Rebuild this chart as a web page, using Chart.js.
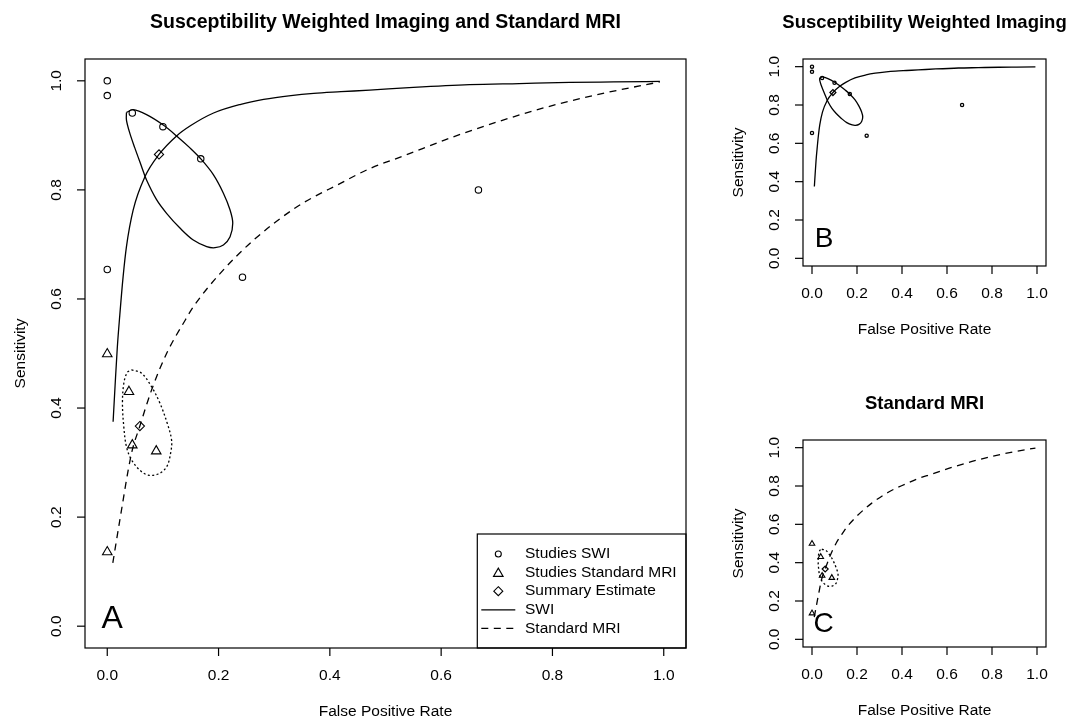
<!DOCTYPE html>
<html>
<head>
<meta charset="utf-8">
<script src="https://cdn.jsdelivr.net/npm/chart.js@4.4.0/dist/chart.umd.min.js"></script>
<style>
  body { margin: 0; background: #fff; }
  #wrap { position: relative; width: 1083px; height: 721px; overflow: hidden; }
  canvas { position: absolute; }
</style>
</head>
<body>
<div id="wrap">
  <canvas id="chartA" width="700" height="721" style="left:0;top:0"></canvas>
  <canvas id="chartB" width="383" height="360" style="left:700px;top:0"></canvas>
  <canvas id="chartC" width="383" height="361" style="left:700px;top:360px"></canvas>
</div>
<script>
// axis ticks
var fprTicks = [0, 0.2, 0.4, 0.6, 0.8, 1.0];
var tickLabels = ['0.0', '0.2', '0.4', '0.6', '0.8', '1.0'];

// individual studies
var swiFpr  = [0, 0, 0.045, 0.100, 0.168, 0, 0.243, 0.667];
var swiSens = [1.000, 0.973, 0.941, 0.916, 0.857, 0.654, 0.640, 0.800];
var mriFpr  = [0, 0.039, 0.045, 0.088, 0];
var mriSens = [0.499, 0.430, 0.332, 0.321, 0.136];

// summary estimates (SWI, Standard MRI)
var summFpr  = [0.093, 0.0586];
var summSens = [0.865, 0.367];

// SROC curves
var swiCurveFpr  = [0.0105, 0.014, 0.018, 0.0225, 0.0285, 0.0345, 0.0465, 0.0676, 0.093, 0.1246, 0.15, 0.191, 0.24, 0.281, 0.33, 0.371, 0.42, 0.4716, 0.55, 0.651, 0.74, 0.831, 0.91, 0.993];
var swiCurveSens = [0.375, 0.44, 0.51, 0.57, 0.641, 0.696, 0.763, 0.824, 0.865, 0.899, 0.918, 0.941, 0.957, 0.966, 0.973, 0.977, 0.980, 0.983, 0.988, 0.993, 0.995, 0.997, 0.998, 0.999];
var mriCurveFpr  = [0.01, 0.0225, 0.0436, 0.0586, 0.0796, 0.1066, 0.14, 0.155, 0.203, 0.263, 0.341, 0.419, 0.4716, 0.5316, 0.6214, 0.7112, 0.801, 0.891, 0.993];
var mriCurveSens = [0.116, 0.194, 0.317, 0.367, 0.433, 0.5, 0.561, 0.586, 0.647, 0.708, 0.769, 0.812, 0.839, 0.862, 0.897, 0.928, 0.955, 0.977, 0.998];

// confidence regions
var swiEllFpr  = [0.0345, 0.0465, 0.0706, 0.1006, 0.1246, 0.1486, 0.168, 0.1906, 0.2087, 0.2207, 0.2255, 0.2207, 0.2087, 0.1937, 0.1787, 0.1546, 0.1306, 0.1066, 0.0886, 0.0706, 0.0616, 0.0495, 0.0405, 0.0345, 0.0345];
var swiEllSens = [0.942, 0.947, 0.938, 0.919, 0.899, 0.877, 0.857, 0.828, 0.794, 0.763, 0.739, 0.714, 0.699, 0.694, 0.696, 0.708, 0.730, 0.757, 0.782, 0.818, 0.843, 0.877, 0.904, 0.928, 0.942];
var mriEllFpr  = [0.0436, 0.0616, 0.0796, 0.0946, 0.1078, 0.1156, 0.1138, 0.1066, 0.0916, 0.0736, 0.0586, 0.0436, 0.0345, 0.0297, 0.0273, 0.0297, 0.0357, 0.0436];
var mriEllSens = [0.470, 0.464, 0.439, 0.409, 0.372, 0.341, 0.317, 0.292, 0.279, 0.277, 0.286, 0.305, 0.329, 0.366, 0.409, 0.445, 0.465, 0.470];

var legendLabels = ['Studies SWI', 'Studies Standard MRI', 'Summary Estimate', 'SWI', 'Standard MRI'];

var FONT = '"Liberation Sans", Arial, sans-serif';

function pts(xs, ys) {
    return xs.map(function (x, i) { return { x: x, y: ys[i] }; });
}

function studies(xs, ys, style, r, bw) {
    return { data: pts(xs, ys), pointStyle: style, pointRadius: r, borderColor: '#000',
             backgroundColor: 'rgba(0,0,0,0)', pointBorderWidth: bw, showLine: false };
}

function curve(xs, ys, dash, closed) {
    var d = { data: pts(xs, ys), showLine: true, pointRadius: 0, borderColor: '#000',
              borderWidth: 1.3, borderDash: dash, fill: false };
    if (closed) d.tension = 0.35; else d.cubicInterpolationMode = 'monotone';
    return d;
}

// draws the R-like box, axes, titles, letter and legend
var rStyle = {
    id: 'rStyle',
    afterDraw: function (chart, args, o) {
        var ctx = chart.ctx, a = chart.chartArea, xs = chart.scales.x, ys = chart.scales.y;
        ctx.save();
        ctx.strokeStyle = '#000';
        ctx.fillStyle = '#000';
        ctx.lineWidth = 1.2;
        ctx.strokeRect(a.left, a.top, a.right - a.left, a.bottom - a.top);
        ctx.font = '15.5px ' + FONT;
        ctx.textAlign = 'center';
        ctx.textBaseline = 'middle';
        fprTicks.forEach(function (v, i) {
            var px = xs.getPixelForValue(v);
            ctx.beginPath(); ctx.moveTo(px, a.bottom); ctx.lineTo(px, a.bottom + 8); ctx.stroke();
            ctx.fillText(tickLabels[i], px, a.bottom + 28);
            var py = ys.getPixelForValue(v);
            ctx.beginPath(); ctx.moveTo(a.left, py); ctx.lineTo(a.left - 8, py); ctx.stroke();
            ctx.save(); ctx.translate(a.left - 28, py); ctx.rotate(-Math.PI / 2);
            ctx.fillText(tickLabels[i], 0, 0); ctx.restore();
        });
        ctx.fillText('False Positive Rate', (a.left + a.right) / 2, a.bottom + 64);
        ctx.save(); ctx.translate(a.left - 64, (a.top + a.bottom) / 2); ctx.rotate(-Math.PI / 2);
        ctx.fillText('Sensitivity', 0, 0); ctx.restore();

        ctx.font = 'bold ' + o.titleSize + 'px ' + FONT;
        ctx.fillText(o.title, (a.left + a.right) / 2, a.top - 36.5);

        ctx.font = o.letterSize + 'px ' + FONT;
        ctx.fillText(o.letter, xs.getPixelForValue(o.letterAt[0]), ys.getPixelForValue(o.letterAt[1]));

        if (o.legend) {
            var bl = a.right - 208.7, bt = a.bottom - 114;
            ctx.lineWidth = 1.2;
            ctx.strokeRect(bl, bt, a.right - bl, a.bottom - bt);
            var rows = [20, 38.6, 57.2, 75.8, 94.4];
            var sx = bl + 21;
            ctx.font = '15.5px ' + FONT;
            ctx.textAlign = 'left';
            legendLabels.forEach(function (lab, i) {
                ctx.fillText(lab, bl + 47.7, bt + rows[i]);
            });
            ctx.lineWidth = 1.1;
            var y0 = bt + rows[0];
            ctx.beginPath(); ctx.arc(sx, y0, 3, 0, Math.PI * 2); ctx.stroke();
            var y1 = bt + rows[1] + 1;
            ctx.beginPath(); ctx.moveTo(sx, y1 - 5.5); ctx.lineTo(sx + 4.8, y1 + 2.75);
            ctx.lineTo(sx - 4.8, y1 + 2.75); ctx.closePath(); ctx.stroke();
            var y2 = bt + rows[2];
            ctx.beginPath(); ctx.moveTo(sx, y2 - 4.5); ctx.lineTo(sx + 4.5, y2);
            ctx.lineTo(sx, y2 + 4.5); ctx.lineTo(sx - 4.5, y2); ctx.closePath(); ctx.stroke();
            ctx.lineWidth = 1.3;
            ctx.beginPath(); ctx.moveTo(bl + 4, bt + rows[3]); ctx.lineTo(bl + 38, bt + rows[3]); ctx.stroke();
            ctx.setLineDash([7, 5.5]);
            ctx.beginPath(); ctx.moveTo(bl + 4, bt + rows[4]); ctx.lineTo(bl + 38, bt + rows[4]); ctx.stroke();
            ctx.setLineDash([]);
        }
        ctx.restore();
    }
};

function makeChart(id, datasets, pad, opts) {
    return new Chart(document.getElementById(id), {
        type: 'scatter',
        data: { datasets: datasets },
        options: {
            responsive: false,
            animation: false,
            devicePixelRatio: 1,
            events: [],
            layout: { padding: pad },
            scales: {
                x: { type: 'linear', min: -0.04, max: 1.04, display: false },
                y: { type: 'linear', min: -0.04, max: 1.04, display: false }
            },
            plugins: { legend: { display: false }, tooltip: { enabled: false }, rStyle: opts }
        },
        plugins: [rStyle]
    });
}

var DASH = [7, 5.5], DOTS = [2, 2.4];

makeChart('chartA', [
    curve(swiCurveFpr, swiCurveSens, []),
    curve(mriCurveFpr, mriCurveSens, DASH),
    curve(swiEllFpr, swiEllSens, [], true),
    curve(mriEllFpr, mriEllSens, DOTS, true),
    studies(swiFpr, swiSens, 'circle', 3.2, 1.1),
    studies(mriFpr, mriSens, 'triangle', 5.5, 1.1),
    studies(summFpr, summSens, 'rectRot', 4.6, 1.1)
], { left: 85, top: 59, right: 14, bottom: 73 },
   { title: 'Susceptibility Weighted Imaging and Standard MRI', titleSize: 19.5, letter: 'A', letterSize: 32,
     letterAt: [0.009, 0.013], legend: true });

makeChart('chartB', [
    curve(swiCurveFpr, swiCurveSens, []),
    curve(swiEllFpr, swiEllSens, [], true),
    studies(swiFpr, swiSens, 'circle', 1.6, 1.3),
    studies(summFpr.slice(0, 1), summSens.slice(0, 1), 'rectRot', 3, 1.2)
], { left: 103, top: 59, right: 37, bottom: 94 },
   { title: 'Susceptibility Weighted Imaging', titleSize: 18.5, letter: 'B', letterSize: 28,
     letterAt: [0.054, 0.098], legend: false });

makeChart('chartC', [
    curve(mriCurveFpr, mriCurveSens, DASH),
    curve(mriEllFpr, mriEllSens, DOTS, true),
    studies(mriFpr, mriSens, 'triangle', 3.2, 1.1),
    studies(summFpr.slice(1), summSens.slice(1), 'rectRot', 3, 1.2)
], { left: 103, top: 80, right: 37, bottom: 74 },
   { title: 'Standard MRI', titleSize: 18.5, letter: 'C', letterSize: 28,
     letterAt: [0.052, 0.077], legend: false });
</script>
</body>
</html>
